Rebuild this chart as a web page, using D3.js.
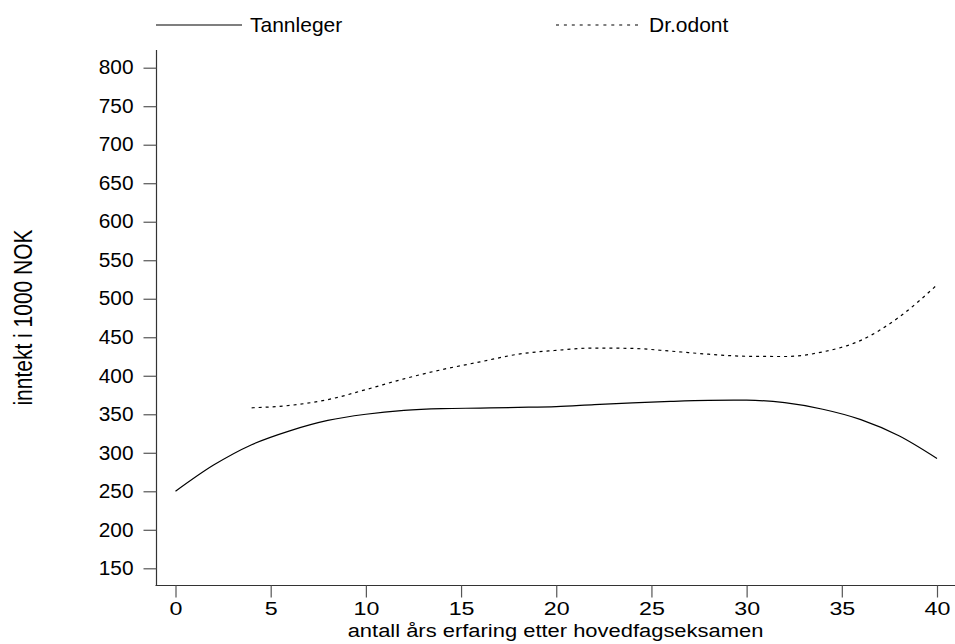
<!DOCTYPE html>
<html>
<head>
<meta charset="utf-8">
<script src="https://cdn.jsdelivr.net/npm/d3@7"></script>
<style>
  html, body { margin: 0; padding: 0; background: #fff; }
  svg { display: block; }
  text { font-family: "Liberation Sans", Arial, sans-serif; fill: #000; }
</style>
</head>
<body>
<svg id="chart" width="955" height="644"></svg>
<script>
// ---- data ----
const seriesNames = ["Tannleger", "Dr.odont"];
const tannYears  = [0, 2, 4, 6, 8, 10, 12, 14, 16, 18, 20, 22, 24, 26, 28, 30, 32, 34, 36, 38, 40];
const tannValues = [250, 284, 310.5, 328.5, 342, 350, 355, 357.3, 358, 358.9, 360, 362.5, 364.8, 366.7, 368, 368.3, 365, 356.5, 343, 322, 292.5];
const drYears    = [4, 6, 8, 10, 12, 14, 16, 18, 20, 22, 24, 26, 28, 30, 32, 34, 36, 38, 40];
const drValues   = [358.4, 361.5, 369, 382, 396, 408, 418, 428, 433, 436, 435.5, 432, 428, 425.3, 425, 431, 446, 476, 518];
const xTicks = [0, 5, 10, 15, 20, 25, 30, 35, 40];
const yTicks = [150, 200, 250, 300, 350, 400, 450, 500, 550, 600, 650, 700, 750, 800];
const xTitle = "antall års erfaring etter hovedfagseksamen";
const yTitle = "inntekt i 1000 NOK";

// ---- layout ----
const svg = d3.select("#chart");
const x = d3.scaleLinear().domain([0, 40]).range([175.5, 937]);
const y = d3.scaleLinear().domain([150, 800]).range([568.3, 67.7]);
const axisX = 156.5, axisY = 585.5;

function stretchX(sel, sx) {
  sel.each(function () {
    const t = d3.select(this);
    const x0 = +t.attr("x") || 0;
    t.attr("x", x0 / sx).attr("transform", `scale(${sx},1)`);
  });
}

// y axis
const gy = svg.append("g").attr("transform", `translate(${axisX},0)`);
gy.append("line").attr("x1", 0).attr("x2", 0).attr("y1", 50).attr("y2", axisY)
  .attr("stroke", "#333").attr("stroke-width", 1.2);
const yAxis = d3.axisLeft(y).tickValues(yTicks).tickSize(13).tickPadding(10).tickFormat(d3.format("d"));
const yg = gy.append("g").call(yAxis);
yg.select(".domain").remove();
yg.selectAll(".tick line").attr("stroke", "#555").attr("stroke-width", 1.2);
yg.selectAll(".tick text").attr("font-size", 19.5).attr("font-family", "Liberation Sans, Arial, sans-serif").attr("fill", "#000");
stretchX(yg.selectAll(".tick text"), 1.07);

// x axis
const gx = svg.append("g").attr("transform", `translate(0,${axisY})`);
gx.append("line").attr("x1", axisX - 1).attr("x2", 955).attr("y1", 0).attr("y2", 0)
  .attr("stroke", "#333").attr("stroke-width", 1.2);
const xAxis = d3.axisBottom(x).tickValues(xTicks).tickSize(12).tickPadding(4).tickFormat(d3.format("d"));
const xg = gx.append("g").call(xAxis);
xg.select(".domain").remove();
xg.selectAll(".tick line").attr("stroke", "#555").attr("stroke-width", 1.2);
xg.selectAll(".tick text").attr("font-size", 18.6).attr("font-family", "Liberation Sans, Arial, sans-serif").attr("fill", "#000");
stretchX(xg.selectAll(".tick text"), 1.25);

// titles
svg.append("text").attr("transform", "translate(555.5,636.5) scale(1.18,1)").attr("text-anchor", "middle")
  .attr("font-size", 18.6).text(xTitle);
svg.append("text").attr("transform", "translate(31.5,317.5) rotate(-90) scale(1,1.2)").attr("text-anchor", "middle")
  .attr("font-size", 21).text(yTitle);

// lines
const line = d3.line().x(d => x(d[0])).y(d => y(d[1])).curve(d3.curveMonotoneX);
const tann = tannYears.map((t, i) => [t, tannValues[i]]);
const dr = drYears.map((t, i) => [t, drValues[i]]);
svg.append("path").datum(tann).attr("d", line).attr("fill", "none")
  .attr("stroke", "#000").attr("stroke-width", 1.2);
svg.append("path").datum(dr).attr("d", line).attr("fill", "none")
  .attr("stroke", "#000").attr("stroke-width", 1.2).attr("stroke-dasharray", "3,4");

// legend
const legend = [
  { name: seriesNames[0], x0: 156, x1: 242, tx: 250, dash: null },
  { name: seriesNames[1], x0: 556, x1: 640, tx: 649, dash: "3,4.9" }
];
legend.forEach(l => {
  svg.append("line").attr("x1", l.x0).attr("x2", l.x1).attr("y1", 25).attr("y2", 25)
    .attr("stroke", "#000").attr("stroke-width", 1.2).attr("stroke-dasharray", l.dash);
  svg.append("text").attr("x", l.tx).attr("y", 32).attr("font-size", 21).text(l.name);
});
</script>
</body>
</html>
